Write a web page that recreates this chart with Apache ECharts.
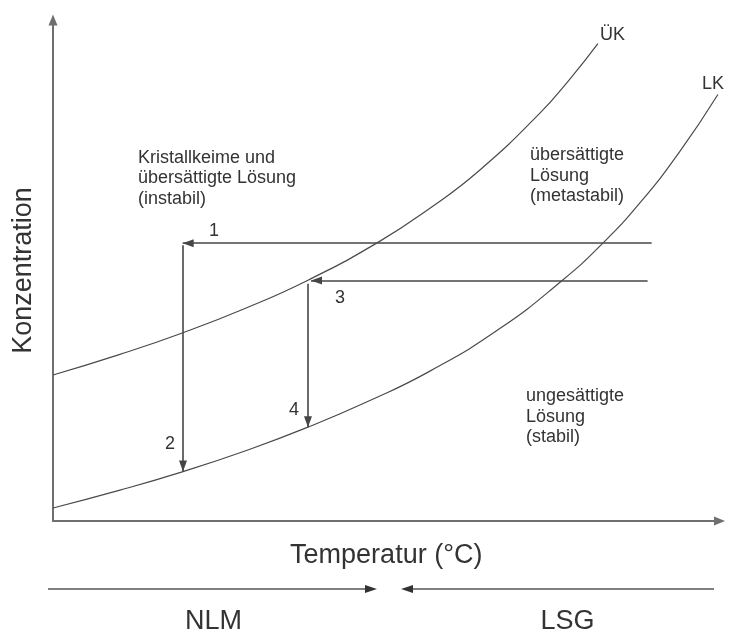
<!DOCTYPE html>
<html>
<head>
<meta charset="utf-8">
<script src="https://cdn.jsdelivr.net/npm/echarts@6/dist/echarts.min.js"></script>
<style>
html,body{margin:0;padding:0;background:#fff;}
#c{width:735px;height:634px;}
</style>
</head>
<body>
<div id="c"></div>
<script>
// Übersättigungskurve (ÜK) – Temperatur / Konzentration (relative units)
const ukX = [0, 9.97, 19.35, 28.57, 37.95, 48.36, 56.1, 63.54, 72.47, 76.93, 81.1];
const ukY = [28.85, 32.92, 37.21, 42.0, 47.59, 55.06, 61.8, 69.37, 80.59, 87.33, 94.33];
// Löslichkeitskurve (LK)
const lkX = [0, 9.97, 19.35, 28.57, 37.95, 47.17, 56.1, 66.5, 75.74, 81.7, 87.35, 93.3, 98.96];
const lkY = [2.57, 6.09, 9.76, 13.83, 18.54, 23.81, 29.62, 38.02, 47.49, 54.72, 62.85, 73.04, 84.29];
// Process arrows: [startX, startY, endX, endY]
const arrow1 = [89.1, 54.9, 19.3, 54.9];    // 1
const arrow2 = [19.35, 54.5, 19.35, 9.76];  // 2
const arrow3 = [88.5, 47.5, 38.4, 47.5];    // 3
const arrow4 = [37.95, 46.9, 37.95, 18.54]; // 4
const arrowLabels = ['1', '2', '3', '4'];

const ukData = ukX.map((x, i) => [x, ukY[i]]);
const lkData = lkX.map((x, i) => [x, lkY[i]]);
const toSeg = a => ({coords: [[a[0], a[1]], [a[2], a[3]]]});
const arrowData = [arrow1, arrow2, arrow3, arrow4].map(toSeg);

// arrow head whose tip sits at the segment end
const HEAD = 'path://M0,0 M22,0 M11,11 L15,22 L7,22 Z';
const FONT = '"Liberation Sans", Arial, Helvetica, sans-serif';
const TXT = '#333333';

const chart = echarts.init(document.getElementById('c'));
const axisCommon = {
  type: 'value',
  axisLine: {show: true, onZero: false, lineStyle: {color: '#6f6f6f', width: 2},
             symbol: ['none', 'triangle'], symbolSize: [9, 11]},
  axisTick: {show: false},
  axisLabel: {show: false},
  splitLine: {show: false},
  nameLocation: 'middle',
  nameTextStyle: {fontFamily: FONT, fontSize: 27, color: TXT, lineHeight: 27}
};
function txt(left, top, text, size, lh) {
  return {type: 'text', left: left, top: top, silent: true,
    style: {text: text, font: size + 'px ' + FONT, fill: TXT, lineHeight: lh || size}};
}
const curveStyle = {color: '#4a4a4a', width: 1.2};
const option = {
  animation: false,
  backgroundColor: '#ffffff',
  grid: {left: 53, top: 20, right: 15.5, bottom: 113, containLabel: false},
  xAxis: Object.assign({}, axisCommon, {min: 0, max: 99.2, name: 'Temperatur (°C)', nameGap: 21.5}),
  yAxis: Object.assign({}, axisCommon, {min: 0, max: 99, name: 'Konzentration', nameGap: 15.5, nameRotate: 90}),
  series: [
    {type: 'line', name: 'ÜK', data: ukData, smooth: 0.5, showSymbol: false,
     lineStyle: curveStyle, silent: true},
    {type: 'line', name: 'LK', data: lkData, smooth: 0.5, showSymbol: false,
     lineStyle: curveStyle, silent: true},
    {type: 'lines', coordinateSystem: 'cartesian2d', data: arrowData,
     symbol: ['none', HEAD], symbolSize: 22, silent: true,
     lineStyle: {color: '#464646', width: 1.6, opacity: 1, curveness: 0}}
  ],
  graphic: [
    txt(138, 147.5, 'Kristallkeime und\nübersättigte Lösung\n(instabil)', 18, 20.5),
    txt(530, 145, 'übersättigte\nLösung\n(metastabil)', 18, 20.5),
    txt(526, 386, 'ungesättigte\nLösung\n(stabil)', 18, 20.5),
    txt(600, 26, 'ÜK', 18),
    txt(702, 75, 'LK', 18),
    txt(209, 222, arrowLabels[0], 18),
    txt(165, 435.5, arrowLabels[1], 18),
    txt(335, 289, arrowLabels[2], 18),
    txt(289, 401.5, arrowLabels[3], 18),
    {type: 'line', silent: true, shape: {x1: 48, y1: 589, x2: 367, y2: 589},
     style: {stroke: '#555', lineWidth: 1.6}},
    {type: 'polygon', silent: true, shape: {points: [[377, 589], [365, 585], [365, 593]]},
     style: {fill: '#333'}},
    {type: 'line', silent: true, shape: {x1: 411, y1: 589, x2: 714, y2: 589},
     style: {stroke: '#555', lineWidth: 1.6}},
    {type: 'polygon', silent: true, shape: {points: [[401, 589], [413, 585], [413, 593]]},
     style: {fill: '#333'}},
    {type: 'text', x: 213.5, y: 622, silent: true,
     style: {text: 'NLM', font: '27px ' + FONT, fill: TXT, align: 'center', verticalAlign: 'middle',
             textAlign: 'center', textVerticalAlign: 'middle'}},
    {type: 'text', x: 567.5, y: 622, silent: true,
     style: {text: 'LSG', font: '27px ' + FONT, fill: TXT, align: 'center', verticalAlign: 'middle',
             textAlign: 'center', textVerticalAlign: 'middle'}}
  ]
};
chart.setOption(option);
</script>
</body>
</html>
